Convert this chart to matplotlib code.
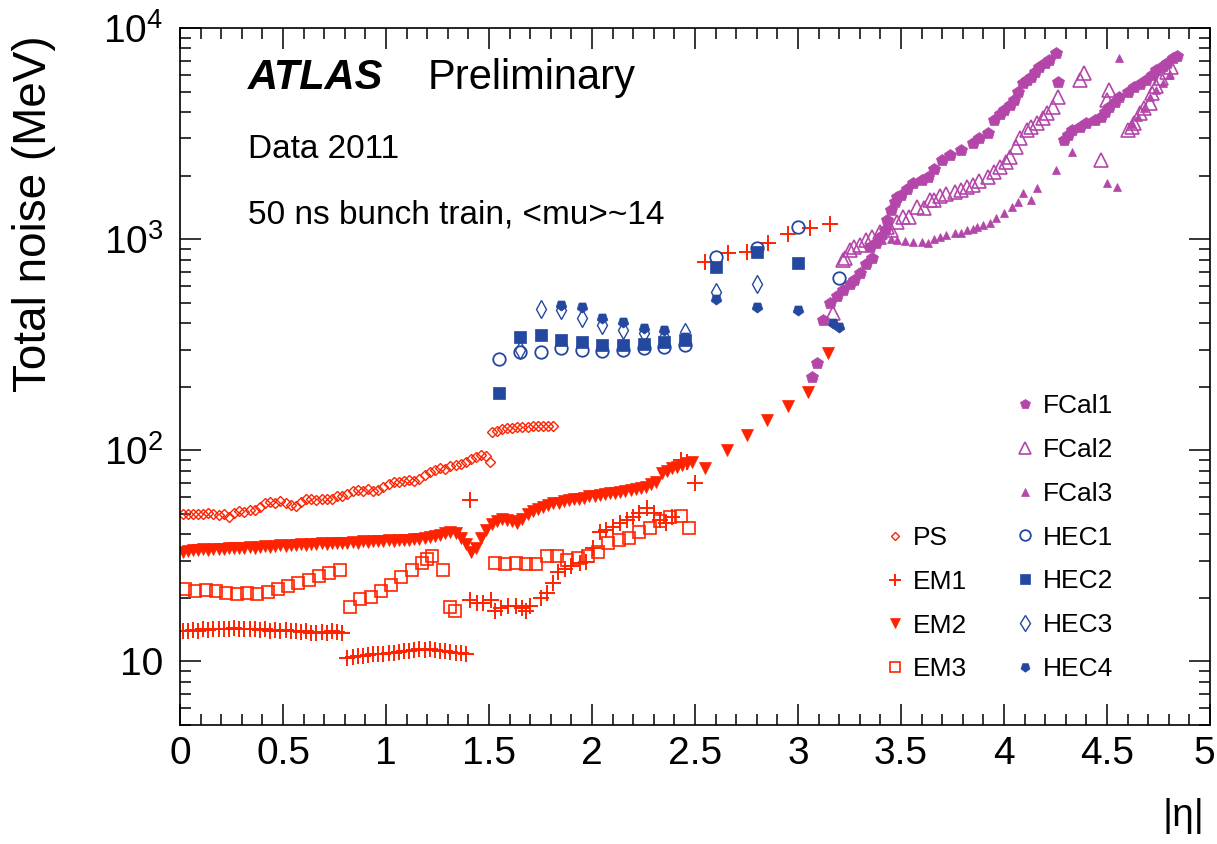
import numpy as np
import matplotlib
matplotlib.use("Agg")
import matplotlib.pyplot as plt
from matplotlib.ticker import MultipleLocator, LogLocator, FuncFormatter, NullFormatter
from matplotlib.lines import Line2D
from matplotlib.transforms import ScaledTranslation

plt.rcParams["font.family"] = ["Liberation Sans", "DejaVu Sans"]
plt.rcParams["mathtext.fontset"] = "custom"
plt.rcParams["mathtext.rm"] = "Liberation Sans"
plt.rcParams["mathtext.it"] = "Liberation Sans:italic"

RED = "#ff2200"
BLUE = "#24479f"
MAGENTA = "#b446aa"

# ---- data (|eta|, total noise in MeV) ----
# presampler, 0.025 bins from 0 to 1.5
ps_eta = np.round(np.arange(0.0125, 1.5, 0.025), 4)
ps_val = [50, 50, 50, 50, 50, 50.5, 50, 49.5, 50, 48.5,
          50.5, 51.5, 51, 52, 52, 54, 56, 57, 56, 57.5,
          56, 55, 54.5, 57, 58.5, 58.5, 58, 58.5, 58.5, 59,
          61, 60.5, 62, 64, 65, 64, 65.5, 64.5, 65, 67,
          69, 71, 70.5, 71.5, 72, 71.5, 73, 76, 79, 81,
          82, 81.5, 84, 85, 86, 88, 91, 93, 95, 94]
ps_eta_ec = [1.505, 1.5125, 1.5375, 1.5625, 1.5875, 1.6125, 1.6375, 1.6625,
             1.6875, 1.7125, 1.7375, 1.7625, 1.7875, 1.8125]
ps_val_ec = [88, 122, 124, 126, 127, 128, 128.5, 129, 129, 130, 130.5, 131, 131, 131]

# EM strips
em1_eta_a = np.round(np.arange(0.0125, 0.8, 0.025), 4)
em1_val_a = [14.0, 13.9, 14.1, 14.0, 14.2, 14.1, 14.3, 14.2, 14.3, 14.2,
             14.4, 14.3, 14.2, 14.3, 14.2, 14.1, 14.2, 14.0, 14.1, 14.0,
             14.1, 13.9, 14.0, 13.8, 13.9, 13.7, 13.6, 13.8, 13.7, 13.9,
             13.8, 13.6]
em1_eta_b = np.round(np.arange(0.8125, 1.4, 0.025), 4)
em1_val_b = [10.4, 10.5, 10.6, 10.6, 10.7, 10.8, 10.8, 10.9, 11.0, 11.0,
             11.1, 11.2, 11.2, 11.3, 11.4, 11.3, 11.4, 11.3, 11.2, 11.2,
             11.1, 11.0, 11.0, 10.9]
em1_eta_c = [1.41, 1.41, 1.44, 1.47, 1.51, 1.53, 1.56, 1.59, 1.63, 1.66,
             1.68, 1.70, 1.75, 1.78, 1.81, 1.835, 1.87, 1.90, 1.94, 1.97,
             2.005, 2.04, 2.07, 2.10, 2.136, 2.17, 2.20, 2.23, 2.265, 2.30,
             2.33, 2.36, 2.39, 2.43, 2.46, 2.50,
             2.55, 2.66, 2.75, 2.855, 2.95, 3.06, 3.155]
em1_val_c = [58, 19.6, 18.9, 18.9, 19.6, 17.3, 18.0, 18.3, 18.3, 18.0,
             17.3, 18.3, 20.0, 21.2, 23.6, 26.5, 27.3, 28.3, 29.3, 29.7,
             34.6, 41, 41.9, 43.5, 45.2, 46.7, 48.5, 50.3, 53.3, 50.3,
             46.7, 45.2, 48.5, 90, 88, 70,
             781, 861, 871, 961, 1059, 1131, 1182]

# EM middle
em2_eta = np.round(np.arange(0.0125, 2.5, 0.025), 4)
em2_val = [33.0, 33.5, 33.8, 33.6, 34.0, 33.8, 34.0, 34.2, 34.0, 34.3,
           34.5, 34.3, 34.6, 34.8, 34.6, 35.0, 35.2, 35.0, 35.3, 35.5,
           35.4, 35.6, 35.5, 35.8, 35.6, 36.0, 35.8, 36.2, 36.0, 36.3,
           36.2, 36.5, 36.3, 36.8, 36.5, 37.0, 36.8, 37.2, 37.0, 37.2,
           37.5, 37.3, 37.6, 37.8, 37.6, 38.0, 38.2, 38.5, 38.8, 39.2,
           39.8, 40.5, 41.0, 40.5, 38.5, 36.0, 33.0, 34.5, 38.5, 42.0,
           45.0, 46.5, 47.5, 47.0, 46.5, 45.5, 47.5, 50.0, 51.5, 53.0,
           54.0, 55.0, 56.0, 56.5, 57.5, 58.0, 58.5, 59.0, 59.5, 60.5,
           61.0, 61.5, 62.0, 62.5, 63.0, 63.5, 64.0, 65.0, 65.5, 66.0,
           67.0, 69.0, 71.0, 78.0, 80.0, 82.0, 83.5, 85.0, 87.0, 88.0]
em2_eta_ec = [2.55, 2.655, 2.75, 2.85, 2.95, 3.05, 3.145]
em2_val_ec = [82.7, 100.7, 118.6, 139.6, 162.7, 189, 290]

# EM back
em3_eta = [0.025, 0.075, 0.125, 0.175, 0.225, 0.275, 0.325, 0.375, 0.425, 0.475,
           0.525, 0.575, 0.625, 0.675, 0.725, 0.775,
           0.825, 0.875, 0.925, 0.975, 1.025, 1.075, 1.125, 1.175, 1.20, 1.225,
           1.275, 1.31, 1.335,
           1.53, 1.58, 1.63, 1.68, 1.73, 1.78, 1.83, 1.88, 1.93, 1.98,
           2.03, 2.08, 2.13, 2.18, 2.23, 2.28, 2.33, 2.38, 2.43, 2.47]
em3_val = [22.0, 21.6, 21.8, 21.5, 21.0, 20.8, 21.2, 20.8, 21.3, 22.0,
           22.8, 23.6, 24.3, 25.5, 26.3, 27.0,
           18.2, 19.8, 20.3, 21.5, 23.0, 25.0, 27.0, 29.3, 30.5, 31.5,
           27.0, 18.2, 17.3,
           29.4, 28.8, 29.4, 28.8, 28.8, 31.6, 31.6, 30.2, 31.0, 31.6,
           33.0, 36.5, 37.6, 38.5, 41.0, 43.0, 46.0, 48.5, 49.0, 43.0]

# hadronic end-cap
hec1_eta = [1.55, 1.65, 1.75, 1.85, 1.95, 2.05, 2.15, 2.25, 2.35, 2.45, 2.6, 2.8, 3.0, 3.2]
hec1_val = [271, 293, 293, 305, 300, 296, 300, 306, 310, 316, 824, 910, 1143, 656]
hec2_eta = [1.55, 1.65, 1.75, 1.85, 1.95, 2.05, 2.15, 2.25, 2.35, 2.45, 2.6, 2.8, 3.0]
hec2_val = [187, 345, 353, 334, 327, 316, 316, 320, 327, 334, 739, 870, 772]
hec3_eta = [1.65, 1.75, 1.85, 1.95, 2.05, 2.15, 2.25, 2.35, 2.45, 2.6, 2.8]
hec3_val = [298, 468, 464, 425, 393, 372, 361, 345, 365, 563, 614]
hec4_eta = [1.85, 1.95, 2.05, 2.15, 2.25, 2.35, 2.45, 2.6, 2.8, 3.0, 3.17, 3.2]
hec4_val = [489, 478, 425, 406, 380, 372, 345, 520, 478, 464, 400, 385]

# forward calorimeter
fcal1_eta = [3.07, 3.09, 3.12, 3.155, 3.19, 3.22, 3.25, 3.27, 3.30, 3.33, 3.36,
             3.35, 3.38, 3.40, 3.42, 3.43, 3.45, 3.47, 3.48, 3.50, 3.53, 3.56,
             3.60, 3.63, 3.66, 3.70, 3.74, 3.79, 3.85, 3.88, 3.92, 3.95, 3.98,
             4.00, 4.03, 4.05, 4.07, 4.09, 4.11, 4.13, 4.15, 4.17, 4.20, 4.22,
             4.25, 4.26,
             4.29, 4.31, 4.33, 4.37, 4.40, 4.44, 4.47, 4.49, 4.51, 4.54, 4.56,
             4.60, 4.63, 4.66, 4.69, 4.72, 4.74, 4.77, 4.79, 4.82, 4.84]
fcal1_val = [223, 260, 415, 500, 540, 575, 610, 640, 692, 760, 815,
             920, 960, 1025, 1100, 1234, 1377, 1500, 1585, 1620, 1720, 1847,
             1900, 1972, 2150, 2371, 2500, 2648, 2856, 3000, 3184, 3670, 3900,
             4091, 4300, 4563, 5000, 5491, 5700, 5862, 6200, 6535, 6800, 7058,
             7614, 5552,
             2951, 3100, 3291, 3400, 3548, 3650, 3793, 4000, 4227, 4450, 4715,
             5000, 5260, 5450, 5675, 6000, 6327, 6600, 6829, 7211, 7400]
fcal2_eta = [3.17, 3.22, 3.23, 3.25, 3.27, 3.30, 3.33, 3.36, 3.40, 3.43, 3.45,
             3.48, 3.51, 3.54, 3.58, 3.61, 3.64, 3.66, 3.69, 3.72, 3.76, 3.79,
             3.82, 3.85, 3.88, 3.92, 3.95, 3.98, 4.01, 4.03, 4.06, 4.08, 4.11,
             4.13, 4.16, 4.19, 4.21, 4.24, 4.26,
             4.37, 4.39, 4.47, 4.50, 4.51, 4.60, 4.62, 4.63, 4.66, 4.68, 4.71,
             4.72, 4.74, 4.76, 4.79, 4.81]
fcal2_val = [448, 798, 815, 890, 920, 940, 993, 1025, 1080, 1143, 1108,
             1208, 1276, 1276, 1422, 1407, 1535, 1535, 1600, 1640, 1680, 1700,
             1760, 1810, 1880, 1972, 2080, 2198, 2320, 2452, 2735, 3000, 3291,
             3400, 3548, 3750, 3963, 4227, 4715,
             5675, 6124, 2371, 4563, 5089, 3291, 3400, 3548, 3963, 4200, 4417,
             4925, 5300, 5800, 6200, 6535]
fcal3_eta = [3.35, 3.41, 3.45, 3.48, 3.52, 3.56, 3.60, 3.63, 3.66, 3.69, 3.72,
             3.76, 3.79, 3.82, 3.85, 3.87, 3.90, 3.93, 3.96, 4.00, 4.04, 4.07,
             4.09, 4.13, 4.16, 4.25, 4.33, 4.50, 4.55, 4.56, 4.62, 4.65, 4.68,
             4.71, 4.74, 4.77, 4.80]
fcal3_val = [930, 993, 1000, 993, 985, 970, 965, 961, 1000, 1025, 1050,
             1071, 1071, 1108, 1120, 1143, 1170, 1195, 1260, 1333, 1422, 1500,
             1656, 1535, 1750, 2128, 2592, 1847, 1768, 7211, 3500, 3800, 4200,
             4715, 5089, 5500, 6000]

# ---- plot ----
fig = plt.figure(figsize=(12.17, 8.44), dpi=100)
ax = fig.add_axes([180 / 1217, 119 / 844, 1030 / 1217, 697 / 844])

styles = {
    "PS": dict(marker="D", ms=5, mfc="none", mec=RED, mew=1.0),
    "EM1": dict(marker="+", ms=11, mec=RED, mew=1.4),
    "EM2": dict(marker="v", ms=9, mfc=RED, mec=RED, mew=0.5),
    "EM3": dict(marker="s", ms=9, mfc="none", mec=RED, mew=1.2),
    "HEC1": dict(marker="o", ms=9, mfc="none", mec=BLUE, mew=1.3),
    "HEC2": dict(marker="s", ms=8, mfc=BLUE, mec=BLUE, mew=0.5),
    "HEC3": dict(marker="d", ms=9, mfc="none", mec=BLUE, mew=1.0),
    "HEC4": dict(marker=(5, 0, 180), ms=8, mfc=BLUE, mec=BLUE, mew=0.5),
    "FCal1": dict(marker="p", ms=9, mfc=MAGENTA, mec=MAGENTA, mew=0.5),
    "FCal2": dict(marker="^", ms=10, mfc="none", mec=MAGENTA, mew=1.2),
    "FCal3": dict(marker="^", ms=6, mfc=MAGENTA, mec=MAGENTA, mew=0.5),
}

def draw(x, y, name):
    ax.plot(x, y, ls="none", **styles[name])

draw(ps_eta, ps_val, "PS")
draw(ps_eta_ec, ps_val_ec, "PS")
draw(em1_eta_a, em1_val_a, "EM1")
draw(em1_eta_b, em1_val_b, "EM1")
draw(em1_eta_c, em1_val_c, "EM1")
draw(em2_eta, em2_val, "EM2")
draw(em2_eta_ec, em2_val_ec, "EM2")
draw(em3_eta, em3_val, "EM3")
draw(fcal2_eta, fcal2_val, "FCal2")
draw(fcal3_eta, fcal3_val, "FCal3")
draw(fcal1_eta, fcal1_val, "FCal1")
draw(hec4_eta, hec4_val, "HEC4")
draw(hec3_eta, hec3_val, "HEC3")
draw(hec2_eta, hec2_val, "HEC2")
draw(hec1_eta, hec1_val, "HEC1")

ax.set_yscale("log")
ax.set_xlim(0, 5)
ax.set_ylim(5, 1e4)

ax.xaxis.set_major_locator(MultipleLocator(0.5))
ax.xaxis.set_minor_locator(MultipleLocator(0.1))
ax.xaxis.set_major_formatter(FuncFormatter(lambda v, p: f"{v:g}"))
ax.yaxis.set_major_locator(LogLocator(base=10, numticks=10))
ax.yaxis.set_minor_locator(LogLocator(base=10, subs=np.arange(2, 10), numticks=20))
ax.yaxis.set_minor_formatter(NullFormatter())


def ylab(v, p):
    n = int(round(np.log10(v)))
    return "10" if n == 1 else rf"$10^{{{n}}}$"


ax.yaxis.set_major_formatter(FuncFormatter(ylab))

ax.tick_params(which="both", direction="in", top=True, right=True, width=1.1)
ax.tick_params(which="major", length=15, labelsize=28)
ax.tick_params(which="minor", length=8)
ax.tick_params(axis="x", pad=8)
ax.tick_params(axis="y", pad=12)
for s in ax.spines.values():
    s.set_linewidth(1.2)

# keep the "5" at the right end inside the canvas
locs = ax.xaxis.get_majorticklocs()
ticks = ax.xaxis.get_major_ticks(len(locs))
for loc, tk in zip(locs, ticks):
    if np.isclose(loc, 5.0):
        lb = tk.label1
        lb.set_transform(lb.get_transform() + ScaledTranslation(-6 / 100, 0, fig.dpi_scale_trans))

fig.text(0.028, 0.958, "Total noise (MeV)", rotation=90, ha="center", va="top", fontsize=33)
ax.text(0.995, -0.13, "|η|", transform=ax.transAxes, ha="right", va="center", fontsize=28)

ax.text(0.066, 0.913, "ATLAS", transform=ax.transAxes, fontsize=30,
        fontweight="bold", fontstyle="italic")
ax.text(0.24, 0.913, "Preliminary", transform=ax.transAxes, fontsize=30)
ax.text(0.066, 0.813, "Data 2011", transform=ax.transAxes, fontsize=24)
ax.text(0.066, 0.72, "50 ns bunch train, <mu>~14", transform=ax.transAxes, fontsize=24)

def handle(name):
    return Line2D([], [], ls="none", **styles[name])

right_names = ["FCal1", "FCal2", "FCal3", "HEC1", "HEC2", "HEC3", "HEC4"]
left_names = ["PS", "EM1", "EM2", "EM3"]
leg_kw = dict(frameon=False, fontsize=19, handlelength=0.8, handletextpad=0.3,
              labelspacing=0.75, borderpad=0, borderaxespad=0, loc="upper left",
              markerscale=0.85)
leg1 = ax.legend([handle(n) for n in right_names], right_names,
                 bbox_to_anchor=(0.8097, 0.4745), **leg_kw)
ax.add_artist(leg1)
ax.legend([handle(n) for n in left_names], left_names,
          bbox_to_anchor=(0.6835, 0.2855), **leg_kw)

fig.savefig("out.png", dpi=100)
